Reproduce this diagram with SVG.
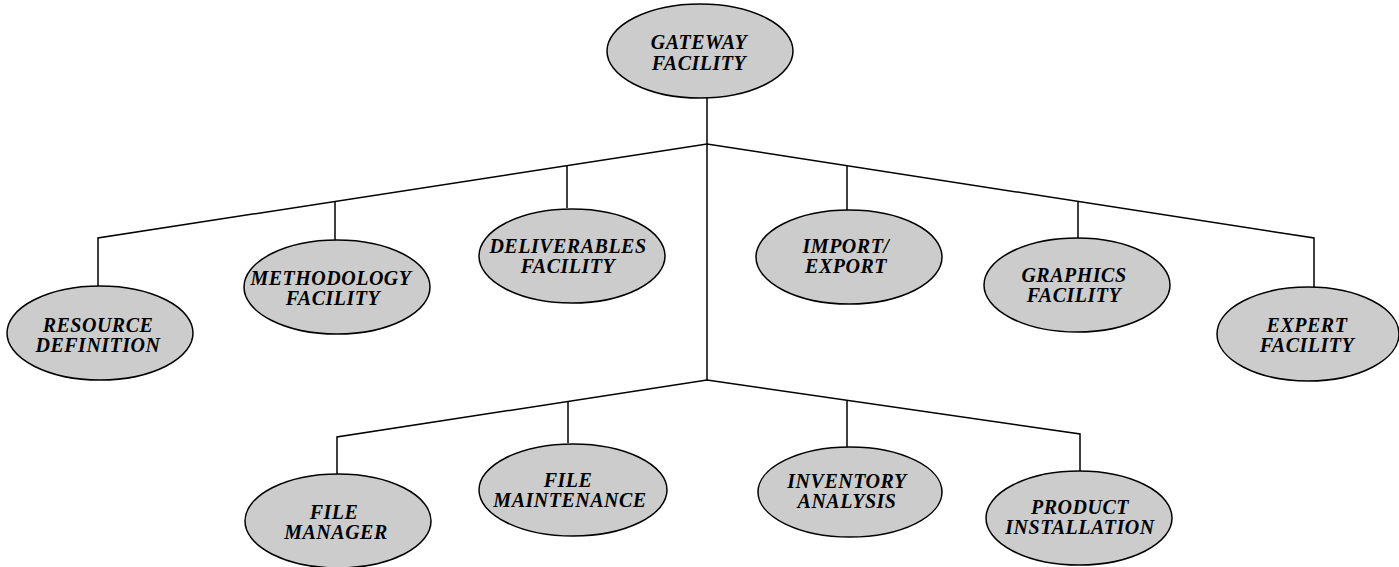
<svg xmlns="http://www.w3.org/2000/svg" width="1399" height="567" viewBox="0 0 1399 567">
<style>
.n ellipse{fill:#cccccc;stroke:#000;stroke-width:1.5}
.n text{font-family:"Liberation Serif","Times New Roman",serif;font-weight:bold;font-style:italic;font-size:20px;letter-spacing:0.5px;text-anchor:middle;fill:#000}
.c{fill:none;stroke:#000;stroke-width:1.5}
</style>
<rect width="1399" height="567" fill="#fff"/>
<g id="connectors" class="c">
<polyline points="707,98 707,380"/>
<polyline points="98,286 98,238 707,144 1314,238 1314,287"/>
<polyline points="335,240 335,201"/>
<polyline points="567,208 567,166"/>
<polyline points="847,210 847,166"/>
<polyline points="1078,238 1078,202"/>
<polyline points="337,474 337,437 707,380 1080,434 1080,471"/>
<polyline points="568,443 568,401"/>
<polyline points="847,447 847,400"/>
</g>
<g id="gateway" class="n"><ellipse cx="700" cy="51" rx="93" ry="47"/><text x="699" y="49">GATEWAY</text><text x="699" y="70">FACILITY</text></g>
<g id="resource" class="n"><ellipse cx="100" cy="333" rx="93" ry="47"/><text x="98" y="332">RESOURCE</text><text x="98" y="352">DEFINITION</text></g>
<g id="methodology" class="n"><ellipse cx="337" cy="287" rx="93" ry="47"/><text x="331" y="285">METHODOLOGY</text><text x="333" y="305">FACILITY</text></g>
<g id="deliverables" class="n"><ellipse cx="572" cy="256" rx="93" ry="47"/><text x="568" y="253">DELIVERABLES</text><text x="568" y="273">FACILITY</text></g>
<g id="import" class="n"><ellipse cx="849" cy="257" rx="93" ry="47"/><text x="846" y="253">IMPORT/</text><text x="846" y="273">EXPORT</text></g>
<g id="graphics" class="n"><ellipse cx="1077" cy="285" rx="93" ry="47"/><text x="1074" y="282">GRAPHICS</text><text x="1074" y="302">FACILITY</text></g>
<g id="expert" class="n"><ellipse cx="1308" cy="334" rx="91" ry="47"/><text x="1307" y="332">EXPERT</text><text x="1307" y="352">FACILITY</text></g>
<g id="filemanager" class="n"><ellipse cx="338" cy="521" rx="93" ry="47"/><text x="334" y="519">FILE</text><text x="336" y="539">MANAGER</text></g>
<g id="filemaint" class="n"><ellipse cx="573" cy="490" rx="94" ry="46"/><text x="568" y="487">FILE</text><text x="570" y="507">MAINTENANCE</text></g>
<g id="inventory" class="n"><ellipse cx="850" cy="492" rx="92" ry="45"/><text x="847" y="488">INVENTORY</text><text x="847" y="508">ANALYSIS</text></g>
<g id="product" class="n"><ellipse cx="1079" cy="518" rx="93" ry="47"/><text x="1080" y="514">PRODUCT</text><text x="1080" y="534">INSTALLATION</text></g>
</svg>
